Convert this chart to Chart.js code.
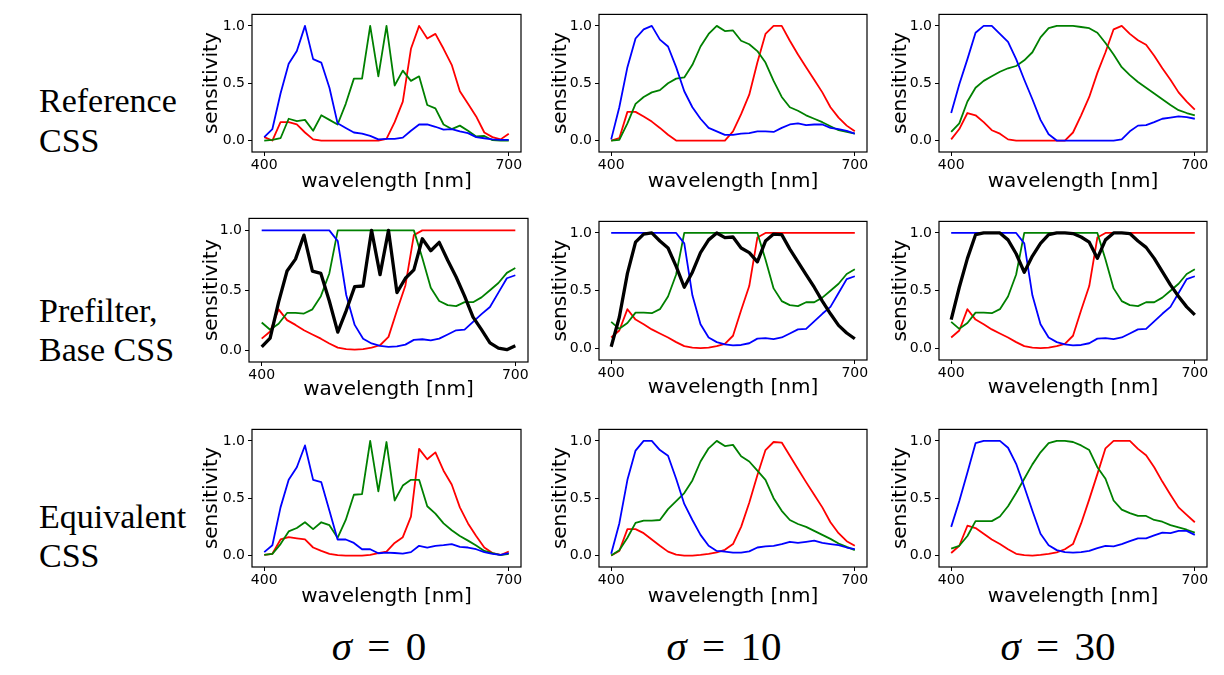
<!DOCTYPE html>
<html>
<head>
<meta charset="utf-8">
<title>CSS sensitivities</title>
<script src="https://cdn.jsdelivr.net/npm/chart.js@4.4.1/dist/chart.umd.min.js"></script>
<style>
  html, body { margin: 0; padding: 0; background: #fff; }
  #page { position: relative; width: 1224px; height: 675px; overflow: hidden; }
  canvas { position: absolute; }
  .rowlbl { position: absolute; left: 39px; font-family: "Liberation Serif", "Times New Roman", serif; font-size: 34px; line-height: 40px; color: #000; white-space: nowrap; }
  .sig { position: absolute; width: 220px; text-align: center; font-family: "Liberation Serif", serif; font-size: 41px; line-height: 46px; color: #000; white-space: pre; }
  .sig .eq { margin: 0 5px; }
</style>
</head>
<body>
<div id="page">
  <div class="rowlbl" style="top:81px">Reference<br>CSS</div>
  <div class="rowlbl" style="top:291px; line-height:39px">Prefilter,<br>Base CSS</div>
  <div class="rowlbl" style="top:497px; line-height:39px">Equivalent<br>CSS</div>
  <div class="sig" style="left:269px; top:623px"><i>σ</i> <span class="eq">=</span> 0</div>
  <div class="sig" style="left:614px; top:623px"><i>σ</i> <span class="eq">=</span> 10</div>
  <div class="sig" style="left:948px; top:623px"><i>σ</i> <span class="eq">=</span> 30</div>
</div>
<script>
// sample points (nm)
const wavelengths = [400, 410, 420, 430, 440, 450, 460, 470, 480, 490, 500, 510, 520, 530, 540, 550,
                     560, 570, 580, 590, 600, 610, 620, 630, 640, 650, 660, 670, 680, 690, 700];
const xTicks = [400, 700];
const yTicks = [0, 0.5, 1];

// Reference CSS
const refR0 = [0.03, 0, 0.16, 0.16, 0.14, 0.07, 0.01, 0, 0, 0, 0, 0, 0, 0, 0, 0.015, 0.16, 0.34, 0.8, 1.0, 0.89, 0.93, 0.8, 0.66, 0.43, 0.32, 0.21, 0.07, 0.03, 0.01, 0.06];
const refG0 = [0, 0.005, 0.02, 0.19, 0.17, 0.18, 0.085, 0.22, 0.18, 0.14, 0.32, 0.54, 0.54, 1.0, 0.56, 1.0, 0.48, 0.61, 0.52, 0.56, 0.31, 0.28, 0.14, 0.1, 0.13, 0.085, 0.035, 0.04, 0.003, 0, 0];
const refB0 = [0.03, 0.1, 0.41, 0.67, 0.78, 1.0, 0.71, 0.68, 0.46, 0.15, 0.11, 0.07, 0.06, 0.04, 0.01, 0.015, 0.015, 0.025, 0.085, 0.14, 0.14, 0.12, 0.095, 0.1, 0.08, 0.065, 0.03, 0.02, 0.01, 0.005, 0.005];

const refR10 = [0, 0.02, 0.25, 0.25, 0.21, 0.165, 0.11, 0.05, 0, 0, 0, 0, 0, 0, 0, 0.08, 0.23, 0.4, 0.68, 0.93, 1.0, 1.0, 0.87, 0.75, 0.64, 0.53, 0.42, 0.29, 0.2, 0.13, 0.08];
const refG10 = [0, 0.005, 0.15, 0.32, 0.38, 0.42, 0.44, 0.5, 0.54, 0.55, 0.66, 0.82, 0.93, 1.0, 0.955, 0.96, 0.87, 0.84, 0.78, 0.68, 0.52, 0.38, 0.29, 0.26, 0.22, 0.19, 0.16, 0.125, 0.09, 0.075, 0.06];
const refB10 = [0.01, 0.29, 0.64, 0.89, 0.97, 1.0, 0.88, 0.82, 0.64, 0.43, 0.29, 0.19, 0.11, 0.08, 0.05, 0.05, 0.06, 0.065, 0.08, 0.08, 0.075, 0.11, 0.14, 0.15, 0.135, 0.14, 0.14, 0.11, 0.1, 0.085, 0.06];

const refR30 = [0.01, 0.1, 0.24, 0.22, 0.16, 0.09, 0.06, 0.01, 0, 0, 0, 0, 0, 0, 0, 0.07, 0.22, 0.38, 0.59, 0.77, 0.97, 1.0, 0.93, 0.875, 0.835, 0.74, 0.63, 0.53, 0.42, 0.34, 0.27];
const refG30 = [0.075, 0.15, 0.34, 0.46, 0.52, 0.56, 0.6, 0.63, 0.65, 0.7, 0.77, 0.9, 0.98, 1.0, 1.0, 1.0, 0.99, 0.98, 0.94, 0.85, 0.75, 0.64, 0.57, 0.51, 0.46, 0.41, 0.36, 0.31, 0.265, 0.24, 0.22];
const refB30 = [0.24, 0.49, 0.71, 0.94, 1.0, 1.0, 0.93, 0.86, 0.71, 0.53, 0.36, 0.18, 0.055, 0, 0, 0, 0, 0, 0, 0, 0, 0.01, 0.08, 0.13, 0.135, 0.16, 0.19, 0.2, 0.21, 0.205, 0.19];

// Prefilter + base CSS (same base for every sigma)
const preR = [0.095, 0.155, 0.34, 0.25, 0.21, 0.165, 0.13, 0.095, 0.055, 0.02, 0.008, 0.003, 0.008, 0.02, 0.04, 0.11, 0.33, 0.54, 0.96, 1, 1, 1, 1, 1, 1, 1, 1, 1, 1, 1, 1];
const preG = [0.23, 0.17, 0.22, 0.31, 0.31, 0.305, 0.34, 0.45, 0.64, 1, 1, 1, 1, 1, 1, 1, 1, 1, 1, 0.77, 0.52, 0.41, 0.375, 0.367, 0.4, 0.4, 0.44, 0.5, 0.56, 0.645, 0.685];
const preB = [1, 1, 1, 1, 1, 1, 1, 1, 1, 0.91, 0.46, 0.21, 0.095, 0.055, 0.035, 0.027, 0.03, 0.045, 0.085, 0.09, 0.08, 0.095, 0.13, 0.165, 0.17, 0.235, 0.3, 0.36, 0.48, 0.6, 0.625];
const preK0 = [0.027, 0.1, 0.4, 0.66, 0.76, 0.96, 0.66, 0.64, 0.41, 0.15, 0.33, 0.53, 0.535, 1.0, 0.63, 1.0, 0.48, 0.6, 0.67, 0.93, 0.83, 0.9, 0.75, 0.61, 0.45, 0.275, 0.17, 0.06, 0.016, 0.003, 0.035];
const preK10 = [0.015, 0.27, 0.65, 0.92, 0.99, 1.0, 0.93, 0.87, 0.71, 0.53, 0.66, 0.83, 0.94, 1.0, 0.96, 0.965, 0.87, 0.83, 0.75, 0.93, 0.99, 0.985, 0.86, 0.75, 0.64, 0.53, 0.41, 0.3, 0.2, 0.134, 0.084];
const preK30 = [0.25, 0.53, 0.78, 0.985, 1, 1, 1, 0.94, 0.82, 0.66, 0.8, 0.91, 0.985, 1, 1, 0.995, 0.965, 0.92, 0.78, 0.94, 1, 1, 0.995, 0.93, 0.875, 0.78, 0.665, 0.55, 0.45, 0.36, 0.29];

// Equivalent CSS
const eqR0 = [0.005, 0.015, 0.14, 0.16, 0.15, 0.14, 0.07, 0.04, 0.015, 0.003, 0, 0, 0, 0.005, 0.02, 0.035, 0.11, 0.16, 0.34, 0.93, 0.84, 0.9, 0.74, 0.62, 0.42, 0.28, 0.17, 0.07, 0.022, 0.005, 0.035];
const eqG0 = [0.005, 0.015, 0.1, 0.21, 0.24, 0.29, 0.23, 0.29, 0.265, 0.155, 0.31, 0.53, 0.535, 1.0, 0.56, 0.99, 0.48, 0.61, 0.66, 0.66, 0.43, 0.365, 0.28, 0.22, 0.17, 0.13, 0.087, 0.04, 0.02, 0.003, 0.014];
const eqB0 = [0.03, 0.09, 0.42, 0.66, 0.77, 0.96, 0.66, 0.64, 0.39, 0.14, 0.14, 0.11, 0.055, 0.055, 0.02, 0.025, 0.022, 0.017, 0.03, 0.085, 0.07, 0.085, 0.09, 0.1, 0.075, 0.07, 0.055, 0.03, 0.015, 0.005, 0.022];

const eqR10 = [0, 0.04, 0.23, 0.23, 0.195, 0.14, 0.085, 0.034, 0.008, 0, 0, 0.005, 0.015, 0.028, 0.05, 0.1, 0.25, 0.46, 0.7, 0.92, 0.99, 0.985, 0.87, 0.755, 0.64, 0.53, 0.42, 0.29, 0.195, 0.125, 0.085];
const eqG10 = [0, 0.047, 0.155, 0.285, 0.305, 0.305, 0.31, 0.405, 0.475, 0.545, 0.655, 0.82, 0.935, 1.0, 0.955, 0.965, 0.865, 0.82, 0.74, 0.66, 0.5, 0.39, 0.31, 0.275, 0.25, 0.215, 0.18, 0.145, 0.105, 0.075, 0.047];
const eqB10 = [0.015, 0.28, 0.66, 0.915, 1.0, 1.0, 0.92, 0.87, 0.67, 0.45, 0.31, 0.18, 0.085, 0.04, 0.035, 0.025, 0.025, 0.036, 0.07, 0.08, 0.085, 0.1, 0.12, 0.11, 0.12, 0.13, 0.11, 0.1, 0.09, 0.07, 0.055];

const eqR30 = [0.022, 0.085, 0.26, 0.24, 0.19, 0.14, 0.1, 0.055, 0.015, 0.003, 0, 0.005, 0.015, 0.028, 0.055, 0.1, 0.28, 0.49, 0.71, 0.935, 1.0, 1.0, 1.0, 0.93, 0.875, 0.77, 0.645, 0.53, 0.42, 0.355, 0.29];
const eqG30 = [0.06, 0.085, 0.17, 0.3, 0.3, 0.3, 0.34, 0.43, 0.545, 0.67, 0.795, 0.9, 0.98, 1.0, 1.0, 0.99, 0.96, 0.92, 0.77, 0.67, 0.48, 0.4, 0.37, 0.345, 0.345, 0.31, 0.295, 0.265, 0.245, 0.225, 0.2];
const eqB30 = [0.25, 0.475, 0.725, 0.98, 1.0, 1.0, 1.0, 0.94, 0.8, 0.6, 0.39, 0.19, 0.09, 0.047, 0.03, 0.025, 0.03, 0.04, 0.065, 0.085, 0.08, 0.1, 0.125, 0.15, 0.15, 0.175, 0.2, 0.195, 0.215, 0.215, 0.18];

const RED = '#ff0000', GREEN = '#008000', BLUE = '#0000ff', BLACK = '#000000';

// axes frame (matplotlib style box)
const frame = {
    id: 'frame',
    afterDatasetsDraw(chart) {
        const a = chart.chartArea, ctx = chart.ctx;
        ctx.save();
        ctx.strokeStyle = '#000';
        ctx.lineWidth = 1.2;
        ctx.strokeRect(a.left, a.top, a.right - a.left, a.bottom - a.top);
        ctx.restore();
    }
};

const PT = 6, PR = 8;
const tickFont = { family: 'DejaVu Sans', size: 14 };
const titleFont = { family: 'DejaVu Sans', size: 20 };

function rgb(r, g, b) {
    return [{ data: b, color: BLUE }, { data: g, color: GREEN }, { data: r, color: RED }];
}

const panels = [
    { L: 252, T: 9, R: 520.5, B: 152, yw: 52, xh: 42, series: rgb(refR0, refG0, refB0) },
    { L: 599, T: 9, R: 867, B: 152, yw: 50, xh: 42, series: rgb(refR10, refG10, refB10) },
    { L: 939, T: 9, R: 1207, B: 152, yw: 50, xh: 42, series: rgb(refR30, refG30, refB30) },
    { L: 249, T: 212.6, R: 528.4, B: 361.7, yw: 49, xh: 40, series: [{ data: preK0, color: BLACK, width: 3.3 }].concat(rgb(preR, preG, preB)) },
    { L: 599, T: 216.4, R: 867, B: 359.6, yw: 50, xh: 40, series: [{ data: preK10, color: BLACK, width: 3.3 }].concat(rgb(preR, preG, preB)) },
    { L: 939, T: 216.4, R: 1207, B: 359.6, yw: 50, xh: 40, series: [{ data: preK30, color: BLACK, width: 3.3 }].concat(rgb(preR, preG, preB)) },
    { L: 252, T: 424, R: 520.5, B: 567, yw: 52, xh: 42, series: rgb(eqR0, eqG0, eqB0) },
    { L: 599, T: 424, R: 867, B: 567, yw: 50, xh: 42, series: rgb(eqR10, eqG10, eqB10) },
    { L: 939, T: 424, R: 1207, B: 567, yw: 50, xh: 42, series: rgb(eqR30, eqG30, eqB30) }
];

function makePanel(p) {
    const c = document.createElement('canvas');
    const left = Math.round(p.L - p.yw), top = Math.round(p.T - PT);
    const w = Math.round(p.R - left + PR), h = Math.round(p.B - top + p.xh);
    c.width = w; c.height = h;
    c.style.left = left + 'px'; c.style.top = top + 'px';
    c.style.width = w + 'px'; c.style.height = h + 'px';
    document.getElementById('page').appendChild(c);

    const datasets = p.series.map(s => ({
        data: wavelengths.map((x, i) => ({ x, y: s.data[i] })),
        borderColor: s.color,
        borderWidth: s.width || 1.8,
        borderJoinStyle: 'round',
        pointRadius: 0,
        tension: 0,
        fill: false
    }));

    const axisGrid = { drawOnChartArea: false, drawTicks: true, tickLength: 4, color: '#000', lineWidth: 1 };

    new Chart(c, {
        type: 'line',
        data: { datasets },
        options: {
            responsive: false,
            animation: false,
            devicePixelRatio: 1,
            layout: { padding: { top: PT, right: PR, left: 0, bottom: 0 } },
            plugins: { legend: { display: false }, tooltip: { enabled: false } },
            scales: {
                x: {
                    type: 'linear', min: 385, max: 715,
                    afterBuildTicks: s => { s.ticks = xTicks.map(v => ({ value: v })); },
                    afterFit: s => { s.height = p.xh; },
                    grid: axisGrid,
                    border: { display: false },
                    ticks: { color: '#000', font: tickFont, padding: 1, maxRotation: 0, autoSkip: false },
                    title: { display: true, text: 'wavelength [nm]', color: '#000', font: titleFont, padding: 0 }
                },
                y: {
                    type: 'linear', min: -0.1, max: 1.1,
                    afterBuildTicks: s => { s.ticks = yTicks.map(v => ({ value: v })); },
                    afterFit: s => { s.width = p.yw; },
                    grid: axisGrid,
                    border: { display: false },
                    ticks: { color: '#000', font: tickFont, padding: 3, autoSkip: false, callback: v => v.toFixed(1) },
                    title: { display: true, text: 'sensitivity', color: '#000', font: titleFont, padding: { top: 0, bottom: 0 } }
                }
            }
        },
        plugins: [frame]
    });
}

panels.forEach(makePanel);
</script>
</body>
</html>
